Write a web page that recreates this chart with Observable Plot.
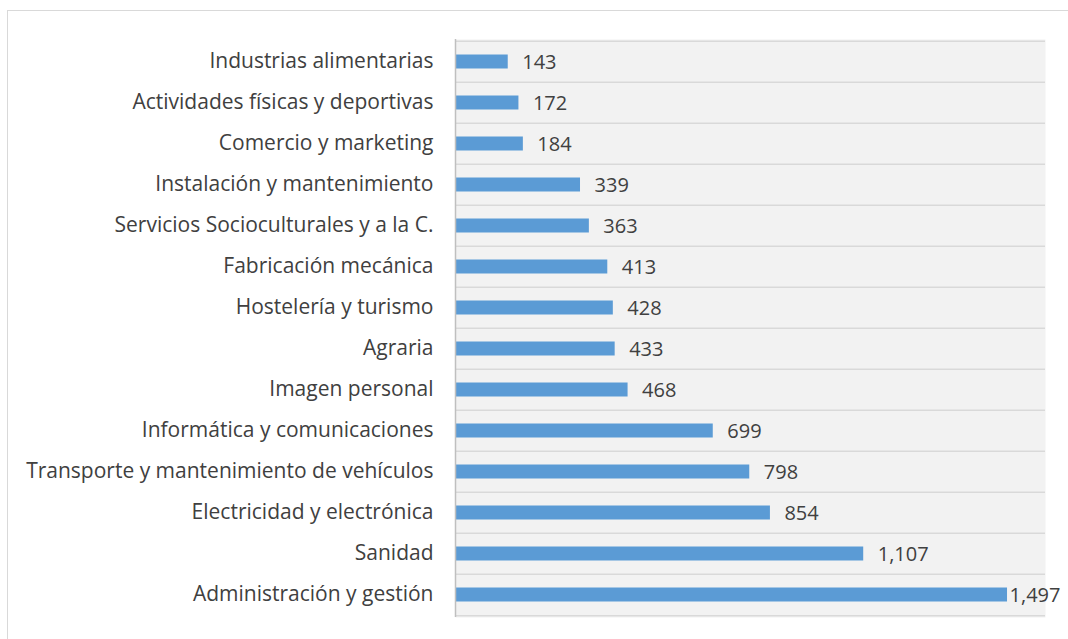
<!DOCTYPE html>
<html>
<head>
<meta charset="utf-8">
<script src="https://cdn.jsdelivr.net/npm/d3@7"></script>
<script src="https://cdn.jsdelivr.net/npm/@observablehq/plot@0.6"></script>
<style>
  body { margin: 0; background: #fff; }
  #wrap { position: relative; width: 1068px; height: 639px; overflow: hidden; }
  #border { position: absolute; left: 7px; top: 10px; width: 1100px; height: 700px; border: 1px solid #d9d9d9; box-sizing: border-box; }
  #chart { position: absolute; left: 0; top: 0; }
</style>
</head>
<body>
<div id="wrap"><div id="border"></div><div id="chart"></div></div>
<script>
const categories = [
  "Industrias alimentarias",
  "Actividades físicas y deportivas",
  "Comercio y marketing",
  "Instalación y mantenimiento",
  "Servicios Socioculturales y a la C.",
  "Fabricación mecánica",
  "Hostelería y turismo",
  "Agraria",
  "Imagen personal",
  "Informática y comunicaciones",
  "Transporte y mantenimiento de vehículos",
  "Electricidad y electrónica",
  "Sanidad",
  "Administración y gestión"
];
const values = [143, 172, 184, 339, 363, 413, 428, 433, 468, 699, 798, 854, 1107, 1497];

const data = categories.map((c, i) => ({category: c, value: values[i]}));
const fmt = d3.format(",");
const maxV = d3.max(values);
const font = "'Open Sans', Lato, sans-serif";

const chart = Plot.plot({
  width: 1068,
  height: 639,
  marginTop: 39,
  marginBottom: 22,
  marginLeft: 455,
  marginRight: 23,
  style: {fontFamily: font, fontSize: "21px", color: "#404040", background: "transparent"},
  x: {domain: [0, 1600], axis: null},
  y: {domain: categories, padding: 0, label: null, tickSize: 0, tickPadding: 22},
  marks: [
    Plot.frame({fill: "#f2f2f2", stroke: null}),
    Plot.ruleY(categories, {y: d => d, dy: -20.65, stroke: "#d9d9d9", strokeWidth: 1.5}),
    Plot.ruleY(categories.slice(-1), {y: d => d, dy: 20.65, stroke: "#d9d9d9", strokeWidth: 1.5}),
    Plot.barX(data, {x: "value", y: "category", fill: "#5b9bd5", insetTop: 13.5, insetBottom: 13.5}),
    Plot.ruleX([0], {stroke: "#bfbfbf", strokeWidth: 1.5}),
    Plot.text(data.filter(d => d.value !== maxV), {x: "value", y: "category", text: d => fmt(d.value), textAnchor: "start", dx: 14, dy: 1, fill: "#404040", fontSize: 20}),
    Plot.text(data.filter(d => d.value === maxV), {x: "value", y: "category", text: d => fmt(d.value), textAnchor: "start", dx: 2, dy: 1, fill: "#404040", fontSize: 20}),
    Plot.axisY({tickSize: 0, tickPadding: 22, fontSize: 21, fill: "#404040", label: null, dy: -1})
  ]
});
document.getElementById("chart").appendChild(chart);
</script>
</body>
</html>
